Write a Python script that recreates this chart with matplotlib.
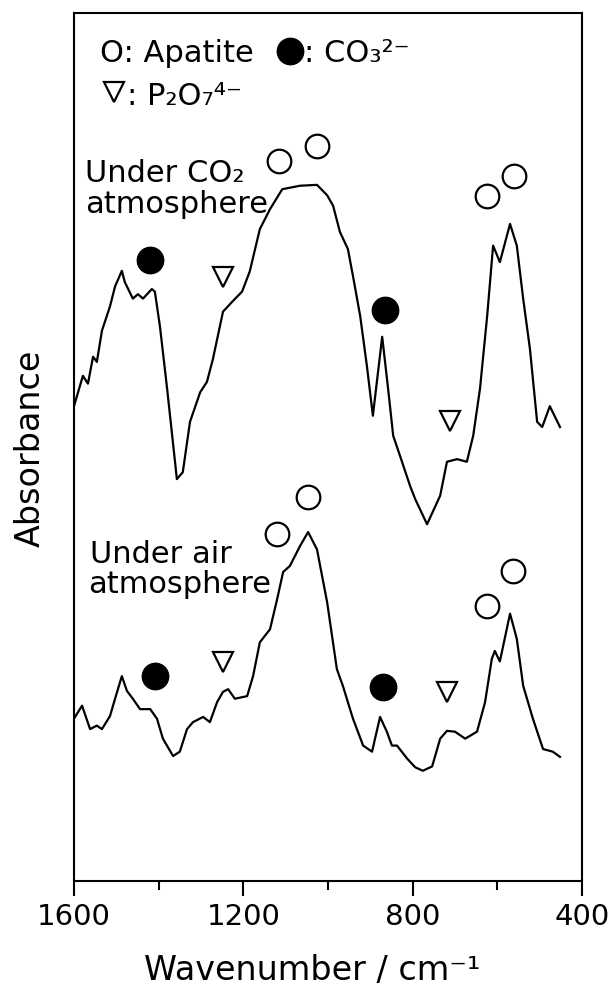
import matplotlib
matplotlib.use("Agg")
import matplotlib.pyplot as plt

# IR spectra (wavenumber / cm-1, absorbance in arbitrary units)
co2_wn = [1600, 1579, 1567, 1555, 1546, 1534, 1515, 1503, 1487, 1480, 1461, 1449,
          1437, 1416, 1409, 1397, 1380, 1357, 1343, 1326, 1302, 1286, 1272, 1248,
          1225, 1203, 1185, 1161, 1137, 1108, 1066, 1026, 1002, 988, 972, 953, 941,
          924, 908, 894, 872, 858, 846, 830, 806, 794, 766, 735, 719, 695, 672, 657,
          641, 624, 610, 594, 570, 554, 539, 523, 506, 494, 476, 452]
co2_abs = [0.547, 0.582, 0.573, 0.604, 0.598, 0.634, 0.662, 0.685, 0.703, 0.690,
           0.671, 0.676, 0.671, 0.682, 0.679, 0.639, 0.567, 0.463, 0.471, 0.529,
           0.563, 0.575, 0.601, 0.656, 0.668, 0.679, 0.702, 0.751, 0.774, 0.797,
           0.801, 0.802, 0.790, 0.778, 0.748, 0.728, 0.697, 0.651, 0.593, 0.536,
           0.627, 0.567, 0.513, 0.490, 0.455, 0.440, 0.411, 0.444, 0.483, 0.486,
           0.483, 0.513, 0.567, 0.651, 0.732, 0.713, 0.757, 0.732, 0.671, 0.613,
           0.529, 0.523, 0.547, 0.523]

air_wn = [1600, 1581, 1562, 1546, 1534, 1515, 1503, 1487, 1475, 1461, 1444, 1420,
          1404, 1390, 1366, 1350, 1333, 1319, 1295, 1279, 1262, 1248, 1236, 1220,
          1191, 1177, 1161, 1137, 1120, 1106, 1090, 1066, 1047, 1026, 1002, 979,
          965, 941, 917, 896, 877, 861, 849, 837, 813, 794, 776, 754, 735, 719, 700,
          676, 648, 629, 613, 606, 594, 570, 554, 539, 516, 492, 469, 452]
air_abs = [0.187, 0.202, 0.175, 0.179, 0.175, 0.190, 0.210, 0.236, 0.219, 0.210,
           0.198, 0.198, 0.187, 0.164, 0.144, 0.149, 0.175, 0.183, 0.189, 0.183,
           0.206, 0.218, 0.221, 0.210, 0.213, 0.236, 0.275, 0.290, 0.325, 0.356,
           0.363, 0.386, 0.402, 0.382, 0.321, 0.244, 0.225, 0.187, 0.156, 0.149,
           0.189, 0.172, 0.156, 0.156, 0.141, 0.131, 0.127, 0.132, 0.164, 0.173,
           0.172, 0.164, 0.172, 0.206, 0.256, 0.265, 0.253, 0.308, 0.279, 0.225,
           0.187, 0.152, 0.149, 0.143]

# band assignment symbols
apatite_wn = [1115, 1026, 624, 561, 1120, 1047, 624, 563]
apatite_abs = [0.829, 0.847, 0.789, 0.812, 0.400, 0.442, 0.317, 0.357]
carbonate_wn = [1420, 865, 1409, 870]
carbonate_abs = [0.715, 0.658, 0.236, 0.224]
pyro_wn = [1248, 712, 1248, 719]
pyro_abs = [0.696, 0.530, 0.252, 0.218]

plt.rcParams['font.family'] = ['DejaVu Sans']

fig = plt.figure(figsize=(6.1, 9.95), dpi=100)
ax = fig.add_axes([74 / 610, 1 - 882 / 995, 508 / 610, 868 / 995])

ax.plot(co2_wn, co2_abs, color='black', lw=1.6)
ax.plot(air_wn, air_abs, color='black', lw=1.6)

ax.plot(apatite_wn, apatite_abs, 'o', ms=17, mfc='white', mec='black', mew=1.6, ls='none')
ax.plot(carbonate_wn, carbonate_abs, 'o', ms=19, color='black', ls='none')
ax.plot(pyro_wn, pyro_abs, 'v', ms=15, mfc='white', mec='black', mew=1.6, ls='none')

ax.set_xlim(1600, 400)
ax.set_ylim(0, 1)
ax.set_xticks([1600, 1200, 800, 400])
ax.set_xticks([1400, 1000, 600], minor=True)
ax.set_yticks([])
ax.tick_params(axis='x', which='major', direction='out', length=11, width=1.5,
               labelsize=21, pad=4)
ax.tick_params(axis='x', which='minor', direction='out', length=6.5, width=1.5)
for s in ax.spines.values():
    s.set_linewidth(1.5)

ax.set_xlabel('Wavenumber / cm⁻¹', fontsize=24, va='baseline')
ax.xaxis.set_label_coords(0.469, -0.113)
ax.set_ylabel('Absorbance', fontsize=24, va='center')
ax.yaxis.set_label_coords(-0.087, 0.5)

# legend of symbols
fs = 22
ax.text(0.051, 0.945, 'O: Apatite', fontsize=fs, transform=ax.transAxes, va='baseline')
ax.plot([0.425], [0.956], 'o', ms=19, color='black', transform=ax.transAxes)
ax.text(0.452, 0.945, ': CO₃²⁻', fontsize=fs, transform=ax.transAxes, va='baseline')
ax.plot([0.079], [0.909], 'v', ms=15, mfc='white', mec='black', mew=1.6,
        transform=ax.transAxes)
ax.text(0.104, 0.895, ': P₂O₇⁴⁻', fontsize=fs, transform=ax.transAxes, va='baseline')

ax.text(0.022, 0.806, 'Under CO₂', fontsize=fs, transform=ax.transAxes, va='baseline')
ax.text(0.022, 0.771, 'atmosphere', fontsize=fs, transform=ax.transAxes, va='baseline')
ax.text(0.031, 0.3675, 'Under air', fontsize=fs, transform=ax.transAxes, va='baseline')
ax.text(0.028, 0.333, 'atmosphere', fontsize=fs, transform=ax.transAxes, va='baseline')

fig.savefig('out.png', dpi=100)
